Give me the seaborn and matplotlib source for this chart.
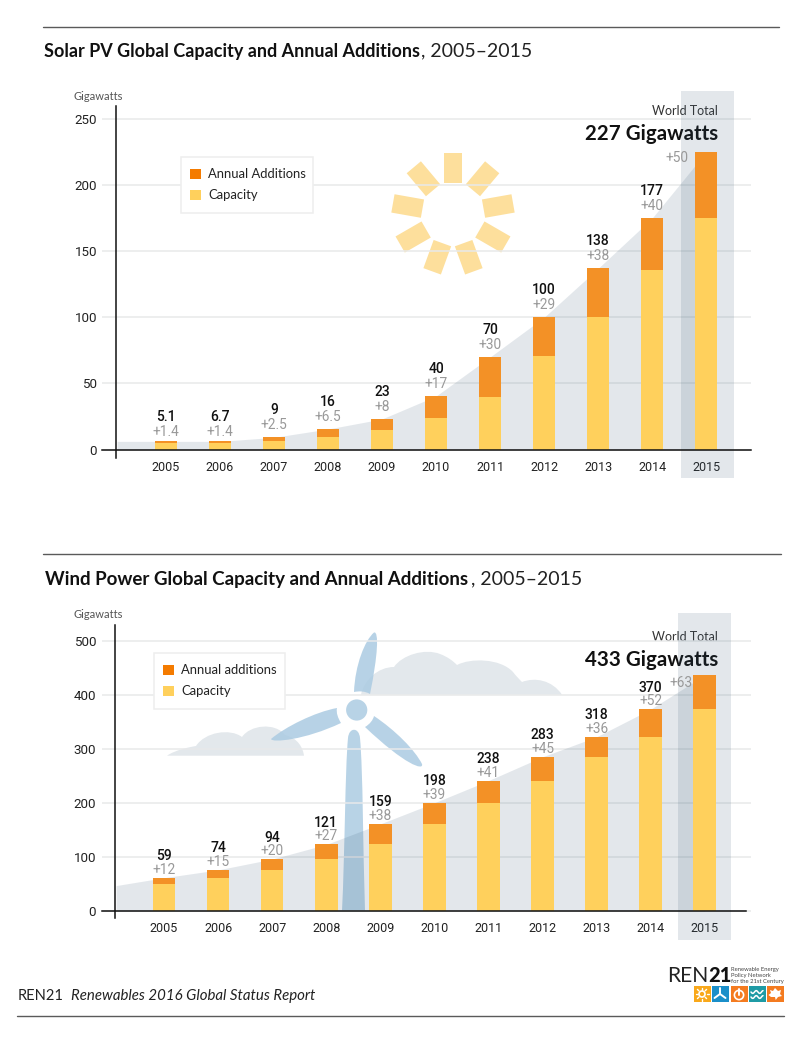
#!/usr/bin/env python3

import numpy as np
import matplotlib
matplotlib.use("Agg")
import matplotlib.pyplot as plt
from matplotlib.patches import Circle, PathPatch, Polygon, Rectangle
from matplotlib.path import Path
import seaborn as sns

YEARS = ["2005", "2006", "2007", "2008", "2009", "2010", "2011", "2012", "2013", "2014", "2015"]

SOLAR_CAPACITY = [4.8, 4.8, 6.3, 9.3, 15.1, 23.6, 40, 71, 100, 136, 175]
SOLAR_ADDITIONS = [1.5, 1.5, 3.0, 6.3, 8.1, 16.9, 30, 29, 37, 39, 50]
SOLAR_TOTAL_LABELS = ["5.1", "6.7", "9", "16", "23", "40", "70", "100", "138", "177", ""]
SOLAR_ADD_LABELS = ["+1.4", "+1.4", "+2.5", "+6.5", "+8", "+17", "+30", "+29", "+38", "+40", "+50"]
SOLAR_AREA_START = 6.3
SOLAR_TICKS = [0, 50, 100, 150, 200, 250]

WIND_CAPACITY = [49, 61, 76, 96, 123, 161, 200, 240, 285, 322, 373]
WIND_ADDITIONS = [12.5, 15, 20, 27, 38, 39, 41, 45, 37, 51, 63]
WIND_TOTAL_LABELS = ["59", "74", "94", "121", "159", "198", "238", "283", "318", "370", ""]
WIND_ADD_LABELS = ["+12", "+15", "+20", "+27", "+38", "+39", "+41", "+45", "+36", "+52", "+63"]
WIND_AREA_START = 47
WIND_TICKS = [0, 100, 200, 300, 400, 500]

W, H = 800, 1055
ORANGE = "#f39126"
YELLOW = "#ffd05c"
BAND = "#3b5b77"
GRID = "#e8e9ea"
CLOUD = "#e3e8ec"
BLADE = "#b8d3e6"
SUN = "#fddf9c"
TEXT_FONT = ["Lato", "DejaVu Sans"]
NUM_FONT = ["Roboto", "DejaVu Sans"]


def curve(ax, start, segments, color, **kw):
    # closed shape from cubic segments, in pixels
    verts = [start]
    codes = [Path.MOVETO]
    for seg in segments:
        verts.extend(seg)
        codes.extend([Path.CURVE4] * 3)
    verts.append(start)
    codes.append(Path.CLOSEPOLY)
    ax.add_patch(PathPatch(Path(verts, codes), facecolor=color, edgecolor="none", **kw))


def draw_backdrop(bg):
    for y, x0, x1 in [(26.5, 43, 779), (554, 43, 781), (1015.5, 17, 784)]:
        bg.plot([x0, x1], [y, y], color="#5a5a5a", lw=1.0)

    # sun
    for deg in np.arange(0, 360, 40):
        a = np.radians(deg)
        axis = np.array([np.sin(a), -np.cos(a)])
        side = np.array([np.cos(a), np.sin(a)]) * 9.3
        c = np.array([453.0, 214.0])
        pts = [c + axis * 31 + side, c + axis * 61 + side, c + axis * 61 - side, c + axis * 31 - side]
        bg.add_patch(Polygon(pts, facecolor=SUN, edgecolor="none"))

    # clouds
    curve(bg, (361, 694.7), [
        [(364, 680), (378, 667), (394, 667)],
        [(402, 655), (425, 648), (440, 654)],
        [(448, 657), (453, 661), (457, 665)],
        [(470, 658), (500, 658), (513, 672)],
        [(516, 676), (520, 680), (522, 682)],
        [(535, 677), (552, 680), (562, 694.7)],
    ], CLOUD)
    curve(bg, (167, 755.7), [
        [(175, 750), (190, 747), (196, 746)],
        [(205, 732), (230, 728), (242, 737)],
        [(250, 725), (275, 722), (285, 735)],
        [(298, 738), (303, 748), (304, 755.7)],
    ], CLOUD)

    # turbine
    curve(bg, (342, 911), [
        [(345, 850), (345, 770), (348, 738)],
        [(349, 727), (359, 727), (360, 738)],
        [(363, 770), (363, 850), (365, 911)],
    ], BLADE)
    curve(bg, (354, 692), [
        [(355, 665), (365, 640), (374, 632.5)],
        [(379, 631), (378, 655), (370, 694)],
        [(365, 691), (359, 691), (354, 692)],
    ], "#abcbe2", alpha=0.85)
    curve(bg, (337, 708), [
        [(315, 712), (285, 727), (271, 739)],
        [(272, 743), (305, 740), (341, 723)],
        [(338, 718), (336, 713), (337, 708)],
    ], "#abcbe2", alpha=0.85)
    curve(bg, (374, 716), [
        [(395, 730), (415, 750), (422, 764)],
        [(424, 771), (405, 765), (365, 727)],
        [(370, 724), (373, 720), (374, 716)],
    ], "#abcbe2", alpha=0.85)
    bg.add_patch(Circle((356.7, 710), 10.6, facecolor=BLADE, edgecolor="none"))


def draw_titles(bg):
    bg.text(44, 51, "Solar PV Global Capacity and Annual Additions", family=TEXT_FONT, weight="bold",
            fontsize=13, va="center", color="#111111")
    bg.text(421, 51, ", 2005–2015", family=TEXT_FONT, fontsize=14, va="center", color="#222222")
    bg.text(45, 579, "Wind Power Global Capacity and Annual Additions", family=TEXT_FONT, weight="bold",
            fontsize=13.5, va="center", color="#111111")
    bg.text(471, 579, ", 2005–2015", family=TEXT_FONT, fontsize=14, va="center", color="#222222")

    for y in [96, 614]:
        bg.text(74, y, "Gigawatts", family=TEXT_FONT, fontsize=8, va="center", color="#555555")
    for y0, big in [(111, "227 Gigawatts"), (637, "433 Gigawatts")]:
        bg.text(718, y0, "World Total", family=TEXT_FONT, fontsize=9, ha="right", va="center", color="#333333")
        bg.text(718, y0 + 22.5, big, family=TEXT_FONT, weight="bold", fontsize=14.8, ha="right", va="center",
                color="#111111")

    bg.text(18, 996, "REN21", family=TEXT_FONT, fontsize=10.5, va="center", color="#222222")
    bg.text(71, 996, "Renewables 2016 Global Status Report", family=TEXT_FONT, style="italic", fontsize=10.85,
            va="center", color="#222222")


def draw_logo(bg):
    bg.text(667, 976, "REN", family=TEXT_FONT, fontsize=15.2, va="center", color="#222222")
    bg.text(708.5, 976, "21", family=TEXT_FONT, weight="black", fontsize=14.5, va="center", color="#111111")
    for y, line in [(970, "Renewable Energy"), (975.5, "Policy Network"), (981, "for the 21st Century")]:
        bg.text(731, y, line, family=TEXT_FONT, fontsize=4.2, va="center", color="#444444")

    tiles = [(694, "#f9a81a"), (712, "#1b8fc9"), (731, "#f47b20"), (749, "#1f9ba5"), (767, "#f47b20")]
    for x, color in tiles:
        bg.add_patch(Rectangle((x, 986), 16.5, 16, facecolor=color, edgecolor="none"))

    bg.add_patch(Circle((702, 994), 3, facecolor="none", edgecolor="white", lw=1.2))
    for deg in np.arange(0, 360, 45):
        a = np.radians(deg)
        bg.plot([702 + 4.5 * np.cos(a), 702 + 6.5 * np.cos(a)], [994 + 4.5 * np.sin(a), 994 + 6.5 * np.sin(a)],
                color="white", lw=1.0)
    for dx, dy in [(0, -6), (5.5, 4), (-5.5, 4)]:
        bg.plot([720, 720 + dx], [994, 994 + dy], color="white", lw=1.4)
    bg.add_patch(Circle((739, 995), 4.6, facecolor="none", edgecolor="white", lw=1.2))
    bg.plot([739, 739], [989, 995], color="white", lw=1.4)
    for yy in [992, 997]:
        xs = np.linspace(751, 763, 20)
        bg.plot(xs, yy + 1.4 * np.sin((xs - 751) * 0.9), color="white", lw=1.1)
    bg.add_patch(Polygon([(775, 988), (778, 991), (781, 990), (780, 994), (782, 996), (778, 997), (775.7, 1000),
                          (775, 997), (771, 997), (768.5, 995), (771, 993), (770, 990), (773, 991)],
                         facecolor="white", edgecolor="none"))


def plot_panel(fig, bg, capacity, additions, total_labels, add_labels, area_start, yticks, legend_labels, geo):
    px = lambda x: (x - geo["x0"]) / geo["dx"]
    py = lambda y: (geo["y0"] - y) / geo["k"]

    ax = fig.add_axes([geo["left"] / W, 1 - geo["bottom"] / H, (geo["right"] - geo["left"]) / W,
                       (geo["bottom"] - geo["top"]) / H], zorder=2)
    ax.patch.set_alpha(0)

    capacity = np.array(capacity, dtype=float)
    totals = capacity + np.array(additions, dtype=float)

    # drawing the totals first and capacity over them gives the stack
    bar_kw = dict(saturation=1, width=geo["bar"] / geo["dx"], ax=ax, edgecolor="none", linewidth=0)
    sns.barplot(x=YEARS, y=totals, color=ORANGE, label=legend_labels[0], zorder=4, **bar_kw)
    sns.barplot(x=YEARS, y=capacity, color=YELLOW, label=legend_labels[1], zorder=5, **bar_kw)

    ax.set_xlim(px(geo["left"]), px(geo["right"]))
    ax.set_ylim(py(geo["bottom"]), py(geo["top"]))
    ax.set_yticks(yticks)
    ax.set_xlabel("")
    ax.set_ylabel("")

    axis_x = px(geo["axis"])
    ax.fill_between(np.r_[axis_x + 0.03, np.arange(len(YEARS))], 0, np.r_[area_start, totals],
                    color=BAND, alpha=0.14, lw=0, zorder=2)
    ax.axvspan(px(geo["band"]), px(geo["band"] + 52.5), color=BAND, alpha=0.14, lw=0, zorder=3)

    ax.set_axisbelow(True)
    ax.yaxis.grid(True, color=GRID, lw=1.1)
    ax.xaxis.grid(False)

    for side in ["top", "right"]:
        ax.spines[side].set_visible(False)
    ax.spines["left"].set_position(("data", axis_x))
    ax.spines["left"].set_bounds(py(geo["axis_bottom"]), py(geo["axis_top"]))
    ax.spines["bottom"].set_position(("data", 0))
    ax.spines["bottom"].set_bounds(px(geo["left"]), px(geo["base_end"]))
    for side in ["left", "bottom"]:
        ax.spines[side].set_color("#111111")
        ax.spines[side].set_linewidth(1.1)
        ax.spines[side].set_zorder(6)

    ax.tick_params(axis="x", length=0, pad=8, labelsize=9, labelcolor="#222222")
    ax.tick_params(axis="y", length=0, pad=13.3, labelsize=9.6, labelcolor="#222222")
    for lab in ax.get_xticklabels() + ax.get_yticklabels():
        lab.set_family(NUM_FONT)

    for i, (total, t_lab, a_lab) in enumerate(zip(totals, total_labels, add_labels)):
        nudge = geo["nudge"][i]
        if t_lab:
            ax.annotate(t_lab, (i, total), xytext=(0, (geo["total_off"] + nudge) * 0.72), textcoords="offset points",
                        ha="center", va="center", fontsize=10, weight="medium", family=NUM_FONT, color="#111111",
                        zorder=8)
            ax.annotate(a_lab, (i, total), xytext=(0, (geo["add_off"] + nudge) * 0.72), textcoords="offset points",
                        ha="center", va="center", fontsize=9.9, family=NUM_FONT, color="#999999", zorder=8)
        else:
            ax.annotate(a_lab, (i, total), xytext=(geo["last_dx"] * 0.72, geo["last_dy"] * 0.72),
                        textcoords="offset points", ha="center", va="center", fontsize=9.9, family=NUM_FONT,
                        color="#999999", zorder=8)

    # legend frame is its own box so it can be sized like the original
    bx, by, bw, bh = geo["legend_box"]
    ax.add_patch(Rectangle((bx, by), bw, bh, transform=bg.transData, facecolor="white", edgecolor="#eeeeee", lw=1.1,
                           zorder=7, clip_on=False))
    handles, labels = ax.get_legend_handles_labels()
    leg = ax.legend(handles, labels, loc="upper left", bbox_to_anchor=(bx + 9, by + 11.5), bbox_transform=bg.transData,
                    borderaxespad=0, borderpad=0, labelspacing=0.68, handlelength=0.84, handleheight=0.84,
                    handletextpad=0.54, fontsize=9.4, frameon=False, labelcolor="#222222")
    leg.legend_handles[0].set_facecolor("#f47b00")
    leg.set_zorder(8)
    return ax


def main():
    sns.set_theme(style="white")
    plt.rcParams["font.family"] = TEXT_FONT

    fig = plt.figure(figsize=(W / 100, H / 100), dpi=100, facecolor="white")
    bg = fig.add_axes([0, 0, 1, 1], zorder=1)
    bg.set_xlim(0, W)
    bg.set_ylim(H, 0)
    bg.axis("off")

    draw_backdrop(bg)
    draw_titles(bg)
    draw_logo(bg)

    plot_panel(fig, bg, SOLAR_CAPACITY, SOLAR_ADDITIONS, SOLAR_TOTAL_LABELS, SOLAR_ADD_LABELS, SOLAR_AREA_START,
               SOLAR_TICKS, ["Annual Additions", "Capacity"],
               dict(x0=165.7, dx=54.06, y0=449.7, k=1.324, left=102, right=751, top=91, bottom=477.5, axis=115.5,
                    axis_top=106, axis_bottom=458, band=681, base_end=751, bar=21.7, total_off=27, add_off=12,
                    nudge=[-3, -3, 0, 0, 0, 0, 0, 0, 0, 0, 0], last_dx=-29, last_dy=-6,
                    legend_box=(181, 157, 132, 56)))
    plot_panel(fig, bg, WIND_CAPACITY, WIND_ADDITIONS, WIND_TOTAL_LABELS, WIND_ADD_LABELS, WIND_AREA_START,
               WIND_TICKS, ["Annual additions", "Capacity"],
               dict(x0=164, dx=54.07, y0=911, k=0.541, left=102, right=751, top=613, bottom=939.5, axis=114.5,
                    axis_top=625, axis_bottom=918, band=678, base_end=746, bar=22.7, total_off=21.5, add_off=8,
                    nudge=[0] * 11, last_dx=-24, last_dy=-8, legend_box=(154, 653, 131, 56)))

    fig.savefig("out.png", dpi=100)


if __name__ == "__main__":
    main()
